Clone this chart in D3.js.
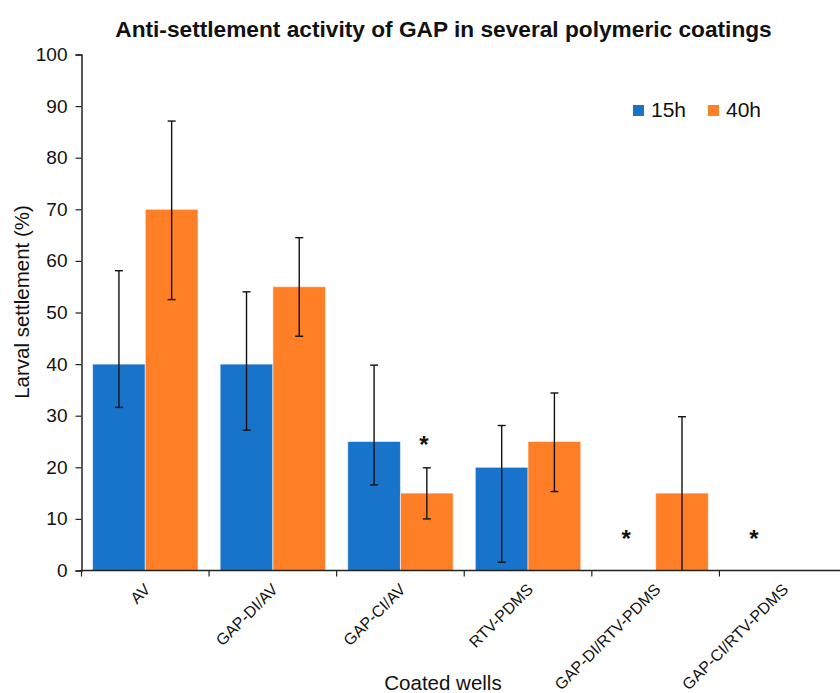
<!DOCTYPE html>
<html>
<head>
<meta charset="utf-8">
<script src="https://cdn.jsdelivr.net/npm/d3@7"></script>
<style>
  body { margin: 0; background: #fff; }
  svg { display: block; font-family: "Liberation Sans", Arial, sans-serif; }
</style>
</head>
<body>
<div id="chart"></div>
<script>
// chart values
let categories = ["AV", "GAP-DI/AV", "GAP-CI/AV", "RTV-PDMS", "GAP-DI/RTV-PDMS", "GAP-CI/RTV-PDMS"];
let seriesNames = ["15h", "40h"];
let values15 = [40, 40, 25, 20, 0, 0];
let values40 = [70, 55, 15, 25, 15, 0];
let errLow15 = [31.6, 27.2, 16.6, 1.6, null, null];
let errHigh15 = [58.1, 54.0, 39.8, 28.1, null, null];
let errLow40 = [52.5, 45.4, 10.0, 15.3, 0, null];
let errHigh40 = [87.1, 64.5, 19.9, 34.4, 29.8, null];
let yTicks = [0, 10, 20, 30, 40, 50, 60, 70, 80, 90, 100];
// significance marks: category, series, height of the mark
let starCats = ["GAP-CI/AV", "GAP-DI/RTV-PDMS", "GAP-CI/RTV-PDMS"];
let starSeries = ["40h", "15h", "15h"];
let starValues = [25.2, 7.1, 7.1];

let colors = { "15h": "#1874cb", "40h": "#ff7f27" };

let width = 840, height = 693;

let svg = d3.select("#chart").append("svg")
    .attr("width", width)
    .attr("height", height);

let x = d3.scaleBand()
    .domain(categories)
    .range([81.5, 847])
    .padding(0);

let x1 = d3.scaleBand()
    .domain(seriesNames)
    .range([0, x.bandwidth()])
    .paddingInner(0)
    .paddingOuter(0.21);

let y = d3.scaleLinear()
    .domain([0, 100])
    .range([570.5, 54.5]);

// rows per category
let rows = categories.map((c, i) => ({
    cat: c,
    bars: [
        { s: "15h", v: values15[i], lo: errLow15[i], hi: errHigh15[i] },
        { s: "40h", v: values40[i], lo: errLow40[i], hi: errHigh40[i] }
    ]
}));

let groups = svg.append("g").selectAll("g")
    .data(rows)
    .join("g")
    .attr("transform", d => "translate(" + x(d.cat) + ",0)");

groups.selectAll("rect")
    .data(d => d.bars.filter(b => b.v > 0))
    .join("rect")
    .attr("x", b => x1(b.s))
    .attr("y", b => y(b.v))
    .attr("width", x1.bandwidth())
    .attr("height", b => y(0) - y(b.v))
    .attr("fill", b => colors[b.s])
    .attr("stroke", "#ffffff")
    .attr("stroke-opacity", 0.55)
    .attr("stroke-width", 1);

// error bars
let errs = groups.selectAll("g.err")
    .data(d => d.bars.filter(b => b.hi != null))
    .join("g")
    .attr("class", "err")
    .attr("transform", b => "translate(" + (x1(b.s) + x1.bandwidth() / 2) + ",0)");

errs.append("line")
    .attr("x1", 0).attr("x2", 0)
    .attr("y1", b => y(b.lo))
    .attr("y2", b => y(b.hi))
    .attr("stroke", "#111")
    .attr("stroke-width", 1.4);

errs.append("line")
    .attr("x1", -4).attr("x2", 4)
    .attr("y1", b => y(b.hi))
    .attr("y2", b => y(b.hi))
    .attr("stroke", "#111")
    .attr("stroke-width", 1.4);

errs.filter(b => b.lo > 0).append("line")
    .attr("x1", -4).attr("x2", 4)
    .attr("y1", b => y(b.lo))
    .attr("y2", b => y(b.lo))
    .attr("stroke", "#111")
    .attr("stroke-width", 1.4);

// asterisks
svg.append("g").selectAll("text")
    .data(starCats.map((c, i) => ({ c: c, s: starSeries[i], v: starValues[i] })))
    .join("text")
    .attr("x", d => x(d.c) + x1(d.s) + x1.bandwidth() / 2 - 3)
    .attr("y", d => y(d.v) + 13)
    .attr("text-anchor", "middle")
    .style("font-size", "24px")
    .style("font-weight", "bold")
    .style("fill", "#111")
    .text("*");

// y axis
let yAxis = svg.append("g")
    .attr("transform", "translate(81.5,0)")
    .call(d3.axisLeft(y).tickValues(yTicks).tickSize(6).tickPadding(8));

yAxis.select(".domain").attr("stroke", "#222").attr("stroke-width", 1.5);
yAxis.selectAll(".tick line").attr("stroke", "#222").attr("stroke-width", 1.2);
yAxis.selectAll(".tick text")
    .style("font-size", "19px")
    .style("fill", "#111")
    .style("font-family", "Liberation Sans, Arial, sans-serif");

// x axis: ticks on band edges, labels on band centres
let xAxisG = svg.append("g");
xAxisG.append("line")
    .attr("x1", 81.5).attr("x2", width)
    .attr("y1", y(0)).attr("y2", y(0))
    .attr("stroke", "#222")
    .attr("stroke-width", 1.5);

xAxisG.selectAll("line.tick")
    .data(categories)
    .join("line")
    .attr("class", "tick")
    .attr("x1", d => x(d)).attr("x2", d => x(d))
    .attr("y1", y(0)).attr("y2", y(0) + 6)
    .attr("stroke", "#222")
    .attr("stroke-width", 1.2);

xAxisG.selectAll("text")
    .data(categories)
    .join("text")
    .attr("transform", d => "translate(" + (x(d) + x.bandwidth() / 2 + 6) + "," + (y(0) + 20) + ") rotate(-45)")
    .attr("text-anchor", "end")
    .style("font-size", "16px")
    .style("fill", "#111")
    .text(d => d);

// titles
svg.append("text")
    .attr("x", 443.5)
    .attr("y", 37)
    .attr("text-anchor", "middle")
    .style("font-size", "22.7px")
    .style("font-weight", "bold")
    .style("fill", "#111")
    .text("Anti-settlement activity of GAP in several polymeric coatings");

svg.append("text")
    .attr("x", 443)
    .attr("y", 690)
    .attr("text-anchor", "middle")
    .style("font-size", "20.5px")
    .style("fill", "#111")
    .text("Coated wells");

svg.append("text")
    .attr("transform", "translate(29,302) rotate(-90)")
    .attr("text-anchor", "middle")
    .style("font-size", "20.5px")
    .style("fill", "#111")
    .text("Larval settlement (%)");

// legend
let legend = svg.append("g").selectAll("g")
    .data(seriesNames)
    .join("g")
    .attr("transform", (d, i) => "translate(" + (633 + i * 75) + ",105)");

legend.append("rect")
    .attr("width", 11).attr("height", 11)
    .attr("fill", d => colors[d]);

legend.append("text")
    .attr("x", 18)
    .attr("y", 12)
    .style("font-size", "21px")
    .style("fill", "#111")
    .text(d => d);
</script>
</body>
</html>
